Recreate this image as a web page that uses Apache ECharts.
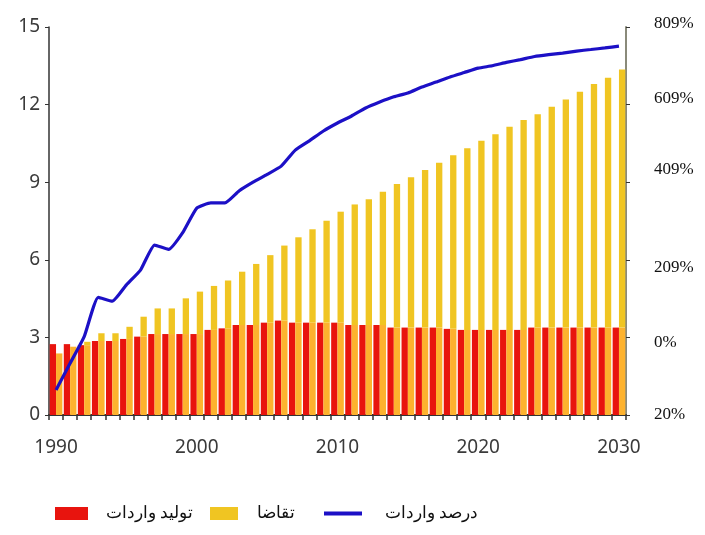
<!DOCTYPE html>
<html>
<head>
<meta charset="utf-8">
<script src="https://cdn.jsdelivr.net/npm/echarts@6/dist/echarts.min.js"></script>
<style>
html,body{margin:0;padding:0;background:#fff;}
#main{width:705px;height:535px;}
</style>
</head>
<body>
<div id="main"></div>
<script>
var years = ['1990','1991','1992','1993','1994','1995','1996','1997','1998','1999',
             '2000','2001','2002','2003','2004','2005','2006','2007','2008','2009',
             '2010','2011','2012','2013','2014','2015','2016','2017','2018','2019',
             '2020','2021','2022','2023','2024','2025','2026','2027','2028','2029','2030'];

var production = [2.74,2.74,2.70,2.86,2.86,2.94,3.03,3.13,3.13,3.13,
                  3.13,3.29,3.35,3.48,3.48,3.57,3.65,3.57,3.57,3.57,
                  3.57,3.48,3.48,3.48,3.38,3.38,3.38,3.38,3.33,3.29,
                  3.29,3.29,3.29,3.29,3.38,3.38,3.38,3.38,3.38,3.38,3.38];

var demand = [2.38,2.64,2.83,3.16,3.16,3.41,3.80,4.12,4.12,4.51,
              4.77,4.99,5.20,5.54,5.84,6.18,6.55,6.87,7.18,7.51,
              7.86,8.14,8.34,8.63,8.93,9.19,9.47,9.75,10.04,10.31,
              10.60,10.85,11.14,11.40,11.63,11.92,12.20,12.50,12.80,13.04,13.36];

var importShare = [0.97,2.0,3.03,4.55,4.4,5.03,5.6,6.57,6.4,7.05,
                   8.0,8.2,8.2,8.66,9.0,9.3,9.62,10.24,10.6,10.98,
                   11.29,11.56,11.87,12.1,12.3,12.45,12.68,12.87,13.07,13.24,
                   13.41,13.5,13.63,13.74,13.86,13.93,13.99,14.07,14.13,14.19,14.26];

var leftTicks = [0,3,6,9,12,15];
var rightTickLabels = ['20%','0%','209%','409%','609%','809%'];
var rightLabelStyle = ['z','d5','d8','u13','u6','u3'];

var seriesNames = ['تولید واردات','تقاضا','درصد واردات'];

// demand split: part up to production level (orange) and part above it (yellow)
var demandBase = demand.map(function(d,i){ return Math.min(d, production[i]); });
var demandTop = demand.map(function(d,i){ return +(d - Math.min(d, production[i])).toFixed(2); });

var chart = echarts.init(document.getElementById('main'), null, {renderer:'canvas'});

var serifFont = '"Liberation Serif","DejaVu Serif",serif';
var sansFont = '"Noto Sans","DejaVu Sans",sans-serif';

function rich(){
  return {
    z:{fontFamily:serifFont,fontSize:17,color:'#111'},
    u3:{fontFamily:serifFont,fontSize:17,color:'#111',padding:[0,0,6,0]},
    u6:{fontFamily:serifFont,fontSize:17,color:'#111',padding:[0,0,12,0]},
    u13:{fontFamily:serifFont,fontSize:17,color:'#111',padding:[0,0,26,0]},
    d8:{fontFamily:serifFont,fontSize:17,color:'#111',padding:[16,0,0,0]},
    d5:{fontFamily:serifFont,fontSize:17,color:'#111',padding:[10,0,0,0]}
  };
}

function legendItem(name, left, icon, w, h, gap){
  return {
    orient:'horizontal',
    top:510 - Math.max(h, 20) / 2,
    left:left,
    itemWidth:w,
    itemHeight:h,
    selectedMode:false,
    textStyle:{fontFamily:serifFont,fontSize:17,color:'#111',padding:[0,0,0,gap]},
    data:[{name:name, icon:icon}]
  };
}

var option = {
  animation:false,
  backgroundColor:'#ffffff',
  grid:{left:49,right:79,top:27,bottom:120,containLabel:false},
  legend:[
    legendItem(seriesNames[0], 50, 'rect', 33, 13, 13),
    legendItem(seriesNames[1], 205, 'rect', 28, 13, 14),
    legendItem(seriesNames[2], 319, 'rect', 38, 4, 18)
  ],
  xAxis:[
    {
      type:'category',
      data:years,
      position:'bottom',
      axisLine:{show:true,lineStyle:{color:'#333',width:1.5}},
      axisTick:{show:true,interval:0,length:5,lineStyle:{color:'#333',width:1.5}},
      axisLabel:{interval:9,margin:23,fontFamily:sansFont,fontSize:19,color:'#3a3a3a'},
      splitLine:{show:false}
    },
    {
      type:'category',
      data:years,
      position:'top',
      axisLine:{show:true,lineStyle:{color:'#333',width:2}},
      axisTick:{show:false},
      axisLabel:{show:false},
      splitLine:{show:false}
    }
  ],
  yAxis:[
    {
      type:'value',
      min:leftTicks[0],
      max:leftTicks[leftTicks.length-1],
      interval:3,
      position:'left',
      axisLine:{show:true,lineStyle:{color:'#333',width:1.5}},
      axisTick:{show:true,length:4,lineStyle:{color:'#333'}},
      axisLabel:{margin:9,fontFamily:sansFont,fontSize:19,color:'#3a3a3a'},
      splitLine:{show:false}
    },
    {
      type:'value',
      min:leftTicks[0],
      max:leftTicks[leftTicks.length-1],
      interval:3,
      position:'right',
      axisLine:{show:true,lineStyle:{color:'#8a8a7a',width:2}},
      axisTick:{show:true,length:4,lineStyle:{color:'#333'}},
      axisLabel:{
        margin:28,
        align:'left',
        formatter:function(v){
          var idx = leftTicks.indexOf(v);
          if(idx < 0) return '';
          return '{' + rightLabelStyle[idx] + '|' + rightTickLabels[idx] + '}';
        },
        rich:rich()
      },
      splitLine:{show:false}
    }
  ],
  series:[
    {
      name:seriesNames[0],
      type:'bar',
      data:production,
      barGap:'0%',
      barCategoryGap:'10%',
      itemStyle:{color:'#e8140e'},
      z:2
    },
    {
      name:'demandBase',
      type:'bar',
      stack:'demand',
      data:demandBase,
      itemStyle:{color:'#fdb22e'},
      z:2
    },
    {
      name:seriesNames[1],
      type:'bar',
      stack:'demand',
      data:demandTop,
      itemStyle:{color:'#f0c522'},
      z:2
    },
    {
      name:seriesNames[2],
      type:'line',
      data:importShare,
      showSymbol:false,
      symbol:'none',
      smooth:0.15,
      lineStyle:{color:'#1c10c6',width:3.2},
      itemStyle:{color:'#1c10c6'},
      z:5
    }
  ]
};

chart.setOption(option);
</script>
</body>
</html>
